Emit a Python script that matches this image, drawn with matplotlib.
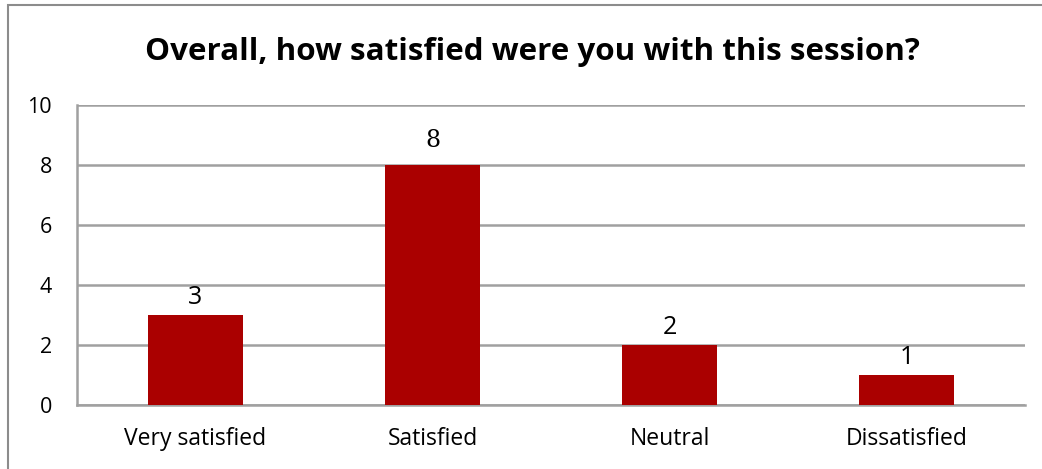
import matplotlib.pyplot as plt
from matplotlib.patches import Rectangle

categories = ['Very satisfied', 'Satisfied', 'Neutral', 'Dissatisfied']
counts = [3, 8, 2, 1]
title = 'Overall, how satisfied were you with this session?'

plt.rcParams['font.family'] = ['Open Sans', 'DejaVu Sans']

fig = plt.figure(figsize=(10.42, 4.69), dpi=100)
# outer chart frame (right/bottom edges run off the canvas)
fig.patches.append(Rectangle((8 / 1042, -0.1), 1.2, 1 - 5 / 469 + 0.1,
                             transform=fig.transFigure, fill=False,
                             edgecolor='#8c8c8c', linewidth=1.5))

ax = fig.add_axes([77 / 1042, 1 - 405 / 469, (1025 - 77) / 1042, 300 / 469])
x = range(len(categories))
bars = ax.bar(x, counts, width=0.4, color='#aa0000', zorder=3)

ax.set_xlim(-0.5, len(categories) - 0.5)
ax.set_ylim(0, 10)
ax.set_yticks(range(0, 11, 2))
ax.set_xticks(list(x))
ax.set_xticklabels(categories)
ax.tick_params(axis='both', length=0, colors='black')
ax.tick_params(axis='y', pad=18, labelsize=15.5)
ax.tick_params(axis='x', pad=16, labelsize=16.5)
ax.yaxis.grid(True, color='#a0a0a0', linewidth=1.8, zorder=0)
for s in ['top', 'right']:
    ax.spines[s].set_visible(False)
ax.spines['left'].set_color('#a0a0a0')
ax.spines['left'].set_linewidth(1.8)
ax.spines['bottom'].set_color('#a0a0a0')
ax.spines['bottom'].set_linewidth(1.8)

for i, v in enumerate(counts):
    if v == 8:
        fam, off, size = ['DejaVu Serif'], 13, 17
    else:
        fam, off, size = ['Open Sans', 'DejaVu Sans'], 8, 18
    ax.annotate(str(v), (i, v), xytext=(0, off), textcoords='offset points',
                ha='center', va='baseline', fontsize=size, family=fam)

fig.text(0.511, 1 - 52 / 469, title, ha='center', va='center',
         fontsize=22.6, fontweight='bold')

fig.savefig('out.png', dpi=100)
